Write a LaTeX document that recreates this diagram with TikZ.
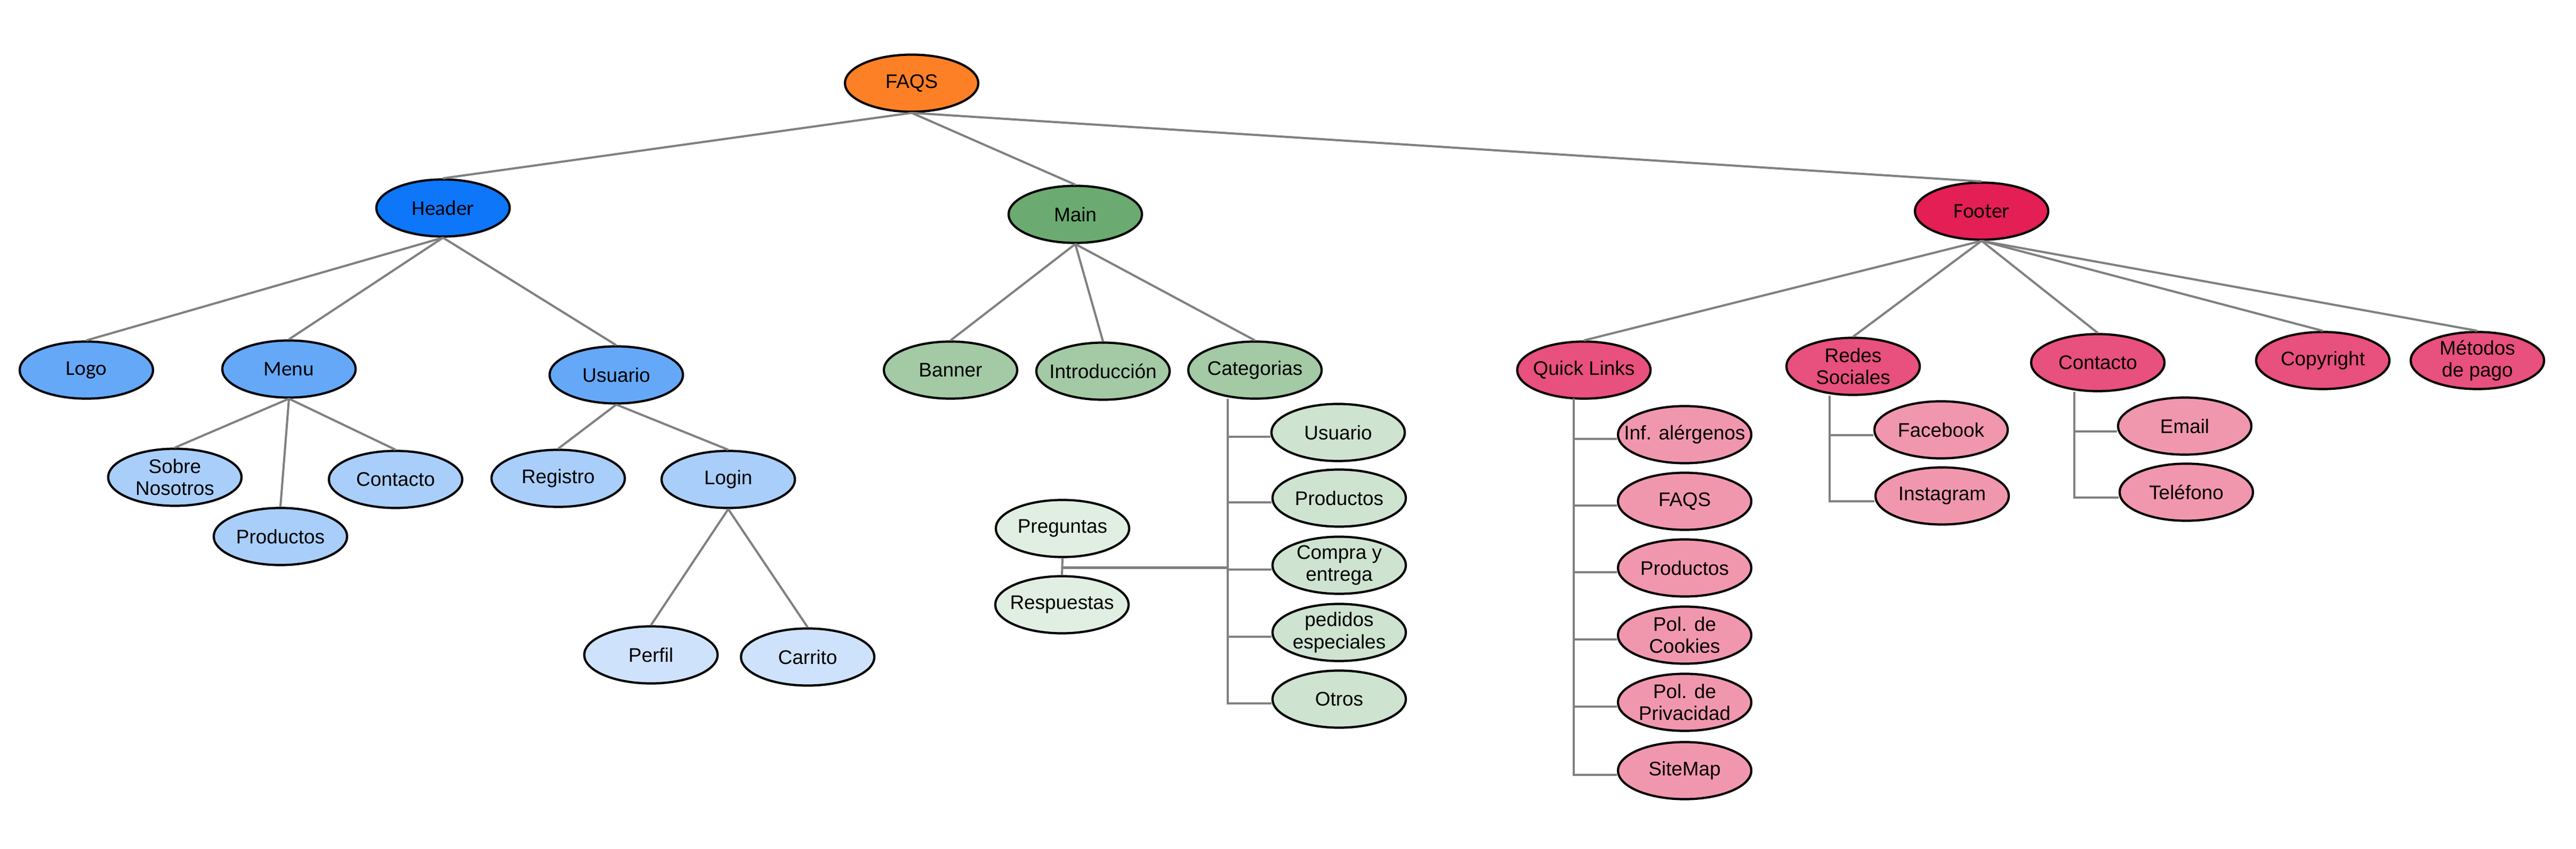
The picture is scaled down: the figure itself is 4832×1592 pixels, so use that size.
\documentclass[tikz,border=0pt]{standalone}
\usepackage{fontspec}
\setmainfont{Liberation Sans}
\newfontfamily\calfont{Carlito}
\usetikzlibrary{shapes.geometric,calc}
\definecolor{corange}{RGB}{254,128,38}
\definecolor{cblueA}{RGB}{14,118,248}
\definecolor{cblueB}{RGB}{102,168,248}
\definecolor{cblueC}{RGB}{169,206,250}
\definecolor{cblueD}{RGB}{207,226,252}
\definecolor{cgreenA}{RGB}{107,170,112}
\definecolor{cgreenB}{RGB}{163,201,165}
\definecolor{cgreenC}{RGB}{206,227,208}
\definecolor{cgreenD}{RGB}{225,238,226}
\definecolor{cpinkA}{RGB}{227,31,85}
\definecolor{cpinkB}{RGB}{232,80,125}
\definecolor{cpinkC}{RGB}{240,151,174}
\definecolor{cedge}{RGB}{128,128,128}
\tikzset{
  bubble/.style={ellipse, draw=black, line width=1.2pt, minimum width=2.5cm, minimum height=1.07cm, inner sep=0pt},
  lblA/.style={align=center, inner sep=0pt, font=\fontsize{10.5}{11.8}\selectfont},
  lblC/.style={align=center, inner sep=0pt, font=\calfont\fontsize{11.2}{12.5}\selectfont},
  edge/.style={draw=cedge, line width=1.15pt},
}
\newcommand\bub[5]{%
  \node[bubble, fill=#2] (#1) at (#3) {};
  \node[#4] (#1-t) at (#1) {#5};}
\begin{document}
\begin{tikzpicture}[x=0.01cm, y=-0.01cm]
\useasboundingbox (0,0) rectangle (4832,1592);
% level 0/1
\bub{faqs}{corange}{1710,156}{lblA}{FAQS}
\bub{header}{cblueA}{831,390}{lblC}{Header}
\bub{main}{cgreenA}{2017,402}{lblA}{Main}
\bub{footer}{cpinkA}{3717,396}{lblC}{Footer}
% header branch
\bub{logo}{cblueB}{162,694}{lblC}{Logo}
\bub{menu}{cblueB}{542,692}{lblC}{Menu}
\bub{husu}{cblueB}{1156,703}{lblA}{Usuario}
\bub{sobre}{cblueC}{328,895}{lblA}{Sobre\\Nosotros}
\bub{hcont}{cblueC}{742,899}{lblA}{Contacto}
\bub{hprod}{cblueC}{526,1006}{lblA}{Productos}
\bub{reg}{cblueC}{1047,897}{lblA}{Registro}
\bub{login}{cblueC}{1366,899}{lblA}{Login}
\bub{perfil}{cblueD}{1221,1228}{lblA}{Perfil}
\bub{carrito}{cblueD}{1515,1232}{lblA}{Carrito}
% main branch
\bub{banner}{cgreenB}{1783,694}{lblA}{Banner}
\bub{intro}{cgreenB}{2069,696}{lblA}{Introducción}
\bub{cat}{cgreenB}{2354,694}{lblA}{Categorias}
\bub{cusu}{cgreenC}{2510,811}{lblA}{Usuario}
\bub{cprod}{cgreenC}{2512,934}{lblA}{Productos}
\bub{ccomp}{cgreenC}{2512,1060}{lblA}{Compra y\\entrega}
\bub{cped}{cgreenC}{2512,1186}{lblA}{pedidos\\especiales}
\bub{cotros}{cgreenC}{2512,1311}{lblA}{Otros}
\bub{preg}{cgreenD}{1993,991}{lblA}{Preguntas}
\bub{resp}{cgreenD}{1992,1134}{lblA}{Respuestas}
% footer branch
\bub{ql}{cpinkB}{2971,694}{lblA}{Quick Links}
\bub{redes}{cpinkB}{3476,687}{lblA}{Redes\\Sociales}
\bub{fcont}{cpinkB}{3935,680}{lblA}{Contacto}
\bub{copy}{cpinkB}{4357,676}{lblA}{Copyright}
\bub{metodos}{cpinkB}{4647,676}{lblA}{Métodos\\de pago}
\bub{inf}{cpinkC}{3160,815}{lblA}{Inf. alérgenos}
\bub{qfaqs}{cpinkC}{3160,940}{lblA}{FAQS}
\bub{qprod}{cpinkC}{3160,1065}{lblA}{Productos}
\bub{cook}{cpinkC}{3160,1191}{lblA}{Pol. de\\Cookies}
\bub{priv}{cpinkC}{3160,1317}{lblA}{Pol. de\\Privacidad}
\bub{site}{cpinkC}{3160,1445}{lblA}{SiteMap}
\bub{fb}{cpinkC}{3641,806}{lblA}{Facebook}
\bub{ig}{cpinkC}{3643,930}{lblA}{Instagram}
\bub{email}{cpinkC}{4098,799}{lblA}{Email}
\bub{tel}{cpinkC}{4101,923}{lblA}{Teléfono}
% trunk tops
\coordinate (cattop) at (2303,748);
\coordinate (qltop) at (2952,747);
\coordinate (rstop) at (3432,742);
\coordinate (cttop) at (3891,735);
% straight connectors
\foreach \c in {header,main,footer} \draw[edge] (faqs.south) -- (\c.north);
\foreach \c in {logo,menu,husu} \draw[edge] (header.south) -- (\c.north);
\foreach \c in {sobre,hprod,hcont} \draw[edge] (menu.south) -- (\c.north);
\foreach \c in {reg,login} \draw[edge] (husu.south) -- (\c.north);
\foreach \c in {perfil,carrito} \draw[edge] (login.south) -- (\c.north);
\foreach \c in {banner,intro,cat} \draw[edge] (main.south) -- (\c.north);
\foreach \c in {ql,redes,fcont,copy,metodos} \draw[edge] (footer.south) -- (\c.north);
% elbow connectors
\foreach \c in {cusu,cprod,ccomp,cped,cotros} \draw[edge] (cattop) |- ([yshift=-0.08cm]\c.west);
\foreach \c in {inf,qfaqs,qprod,cook,priv,site} \draw[edge] (qltop) |- ([yshift=-0.08cm]\c.west);
\foreach \c in {fb,ig} \draw[edge] (rstop) |- ([yshift=-0.1cm]\c.west);
\foreach \c in {email,tel} \draw[edge] (cttop) |- ([yshift=-0.1cm]\c.west);
% preguntas / respuestas bracket
\draw[edge] (preg.south) -- (resp.north);
\coordinate (pr) at ($(preg.south)!0.55!(resp.north)$);
\draw[edge, line width=1.4pt] (pr) -- (pr -| cattop);
\end{tikzpicture}
\end{document}
